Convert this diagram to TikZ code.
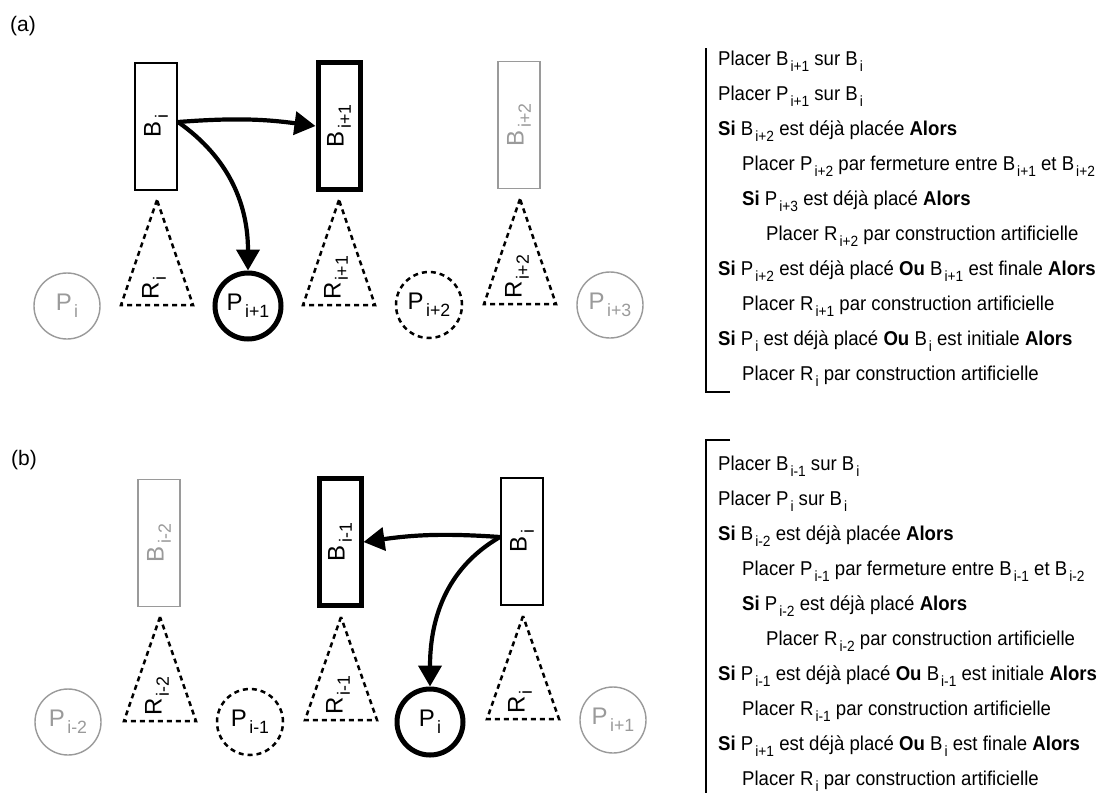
\documentclass[tikz,border=0pt]{standalone}
\usepackage{fontspec}
\setmainfont{Liberation Sans}
\newfontfamily\listfont[FakeStretch=0.93]{Liberation Sans}
\usepackage{graphicx}
\usetikzlibrary{arrows.meta,positioning}
\definecolor{faded}{HTML}{9A9A9A}
\newcommand{\idx}[1]{\kern.1em\raisebox{-.3em}{\scalebox{.74}{#1}}}

\begin{document}
\begin{tikzpicture}[x=1pt, y=1pt,
  >={Triangle[length=21pt,width=23pt]},
  lbl/.style={font=\fontsize{24}{24}\selectfont},
  blk/.style={draw, line width=2pt, minimum width=42pt, minimum height=127pt, inner sep=0pt, lbl},
  blkon/.style={blk, line width=5pt},
  blkoff/.style={blk, draw=faded, line width=1.4pt, text=faded},
  pt/.style={circle, draw, line width=2pt, minimum size=66pt, inner sep=0pt, lbl},
  pton/.style={pt, line width=5pt},
  ptopen/.style={pt, line width=2.5pt, dash pattern=on 5pt off 4pt},
  ptoff/.style={pt, draw=faded, line width=1.4pt, text=faded},
  tri/.style={line width=2.5pt, dash pattern=on 5pt off 4pt},
  rlab/.style={lbl, anchor=south, inner sep=0pt},
  mv/.style={->, line width=4.2pt},
  ln/.style={anchor=base west, inner sep=0pt, font=\listfont\fontsize{20}{24}\selectfont},
  brk/.style={line width=2.5pt},
  tag/.style={anchor=west, inner sep=0pt, font=\fontsize{21}{21}\selectfont}]
  \useasboundingbox (0,0) rectangle (1119,-793);

  % (a) forward step
  \node[tag] (taga) at (10,-26) {(a)};
  \node[blk] (aB0) at (156,-126) {\rotatebox{90}{B\idx{i}}};
  \node[blkon] (aB1) at (339,-126) {\rotatebox{90}{B\idx{i+1}}};
  \node[blkoff] (aB2) at (519,-125) {\rotatebox{90}{B\idx{i+2}}};
  \draw[tri] (157,-200) -- (121,-305) -- (193,-305) -- cycle;
  \draw[tri] (339,-200) -- (303,-305) -- (375,-305) -- cycle;
  \draw[tri] (520,-199) -- (484,-304) -- (556,-304) -- cycle;
  \node[rlab] (aR0) at (154,-300) {\rotatebox{90}{R\idx{i}}};
  \node[rlab] (aR1) at (336,-300) {\rotatebox{90}{R\idx{i+1}}};
  \node[rlab] (aR2) at (517,-299) {\rotatebox{90}{R\idx{i+2}}};
  \node[ptoff] (aP0) at (67,-306) {P\idx{i}};
  \node[pton] (aP1) at (248,-306) {P\idx{i+1}};
  \node[ptopen] (aP2) at (429,-305) {P\idx{i+2}};
  \node[ptoff] (aP3) at (610,-305) {P\idx{i+3}};
  \draw[mv] ([yshift=4pt]aB0.east) to[bend left=6] (aB1.west);
  \draw[mv] ([yshift=4pt]aB0.east) to[out=-35, in=90] (aP1.north);

  \node[ln] (a1) at (718,-65) {Placer B\idx{i+1} sur B\idx{i}};
  \node[ln] (a2) at (718,-100) {Placer P\idx{i+1} sur B\idx{i}};
  \node[ln] (a3) at (718,-135) {\textbf{Si} B\idx{i+2} est déjà placée \textbf{Alors}};
  \node[ln] (a4) at (742,-170) {Placer P\idx{i+2} par fermeture entre B\idx{i+1} et B\idx{i+2}};
  \node[ln] (a5) at (742,-205) {\textbf{Si} P\idx{i+3} est déjà placé \textbf{Alors}};
  \node[ln] (a6) at (766,-240) {Placer R\idx{i+2} par construction artificielle};
  \node[ln] (a7) at (718,-275) {\textbf{Si} P\idx{i+2} est déjà placé \textbf{Ou} B\idx{i+1} est finale \textbf{Alors}};
  \node[ln] (a8) at (742,-310) {Placer R\idx{i+1} par construction artificielle};
  \node[ln] (a9) at (718,-345) {\textbf{Si} P\idx{i} est déjà placé \textbf{Ou} B\idx{i} est initiale \textbf{Alors}};
  \node[ln] (a10) at (742,-380) {Placer R\idx{i} par construction artificielle};
  \draw[brk] (706,-48) -- (706,-392) -- (730,-392);

  % (b) backward step
  \node[tag] (tagb) at (11,-460) {(b)};
  \node[blkoff] (bB2) at (159,-543) {\rotatebox{90}{B\idx{i-2}}};
  \node[blkon] (bB1) at (340,-542) {\rotatebox{90}{B\idx{i-1}}};
  \node[blk] (bB0) at (522,-541) {\rotatebox{90}{B\idx{i}}};
  \draw[tri] (160,-617) -- (124,-721) -- (196,-721) -- cycle;
  \draw[tri] (341,-617) -- (305,-720) -- (377,-720) -- cycle;
  \draw[tri] (523,-616) -- (487,-719) -- (559,-719) -- cycle;
  \node[rlab] (bR2) at (157,-716) {\rotatebox{90}{R\idx{i-2}}};
  \node[rlab] (bR1) at (338,-715) {\rotatebox{90}{R\idx{i-1}}};
  \node[rlab] (bR0) at (520,-714) {\rotatebox{90}{R\idx{i}}};
  \node[ptoff] (bP2) at (68,-722) {P\idx{i-2}};
  \node[ptopen] (bP1) at (250,-722) {P\idx{i-1}};
  \node[pton] (bP0) at (430,-722) {P\idx{i}};
  \node[ptoff] (bPn) at (613,-720) {P\idx{i+1}};
  \draw[mv] ([yshift=4pt]bB0.west) to[bend right=6] (bB1.east);
  \draw[mv] ([yshift=4pt]bB0.west) to[out=-150, in=90] (bP0.north);

  \node[ln] (b1) at (718,-470) {Placer B\idx{i-1} sur B\idx{i}};
  \node[ln] (b2) at (718,-505) {Placer P\idx{i} sur B\idx{i}};
  \node[ln] (b3) at (718,-540) {\textbf{Si} B\idx{i-2} est déjà placée \textbf{Alors}};
  \node[ln] (b4) at (742,-575) {Placer P\idx{i-1} par fermeture entre B\idx{i-1} et B\idx{i-2}};
  \node[ln] (b5) at (742,-610) {\textbf{Si} P\idx{i-2} est déjà placé \textbf{Alors}};
  \node[ln] (b6) at (766,-645) {Placer R\idx{i-2} par construction artificielle};
  \node[ln] (b7) at (718,-680) {\textbf{Si} P\idx{i-1} est déjà placé \textbf{Ou} B\idx{i-1} est initiale \textbf{Alors}};
  \node[ln] (b8) at (742,-715) {Placer R\idx{i-1} par construction artificielle};
  \node[ln] (b9) at (718,-750) {\textbf{Si} P\idx{i+1} est déjà placé \textbf{Ou} B\idx{i} est finale \textbf{Alors}};
  \node[ln] (b10) at (742,-785) {Placer R\idx{i} par construction artificielle};
  \draw[brk] (730,-440) -- (706,-440) -- (706,-793);
\end{tikzpicture}
\end{document}
